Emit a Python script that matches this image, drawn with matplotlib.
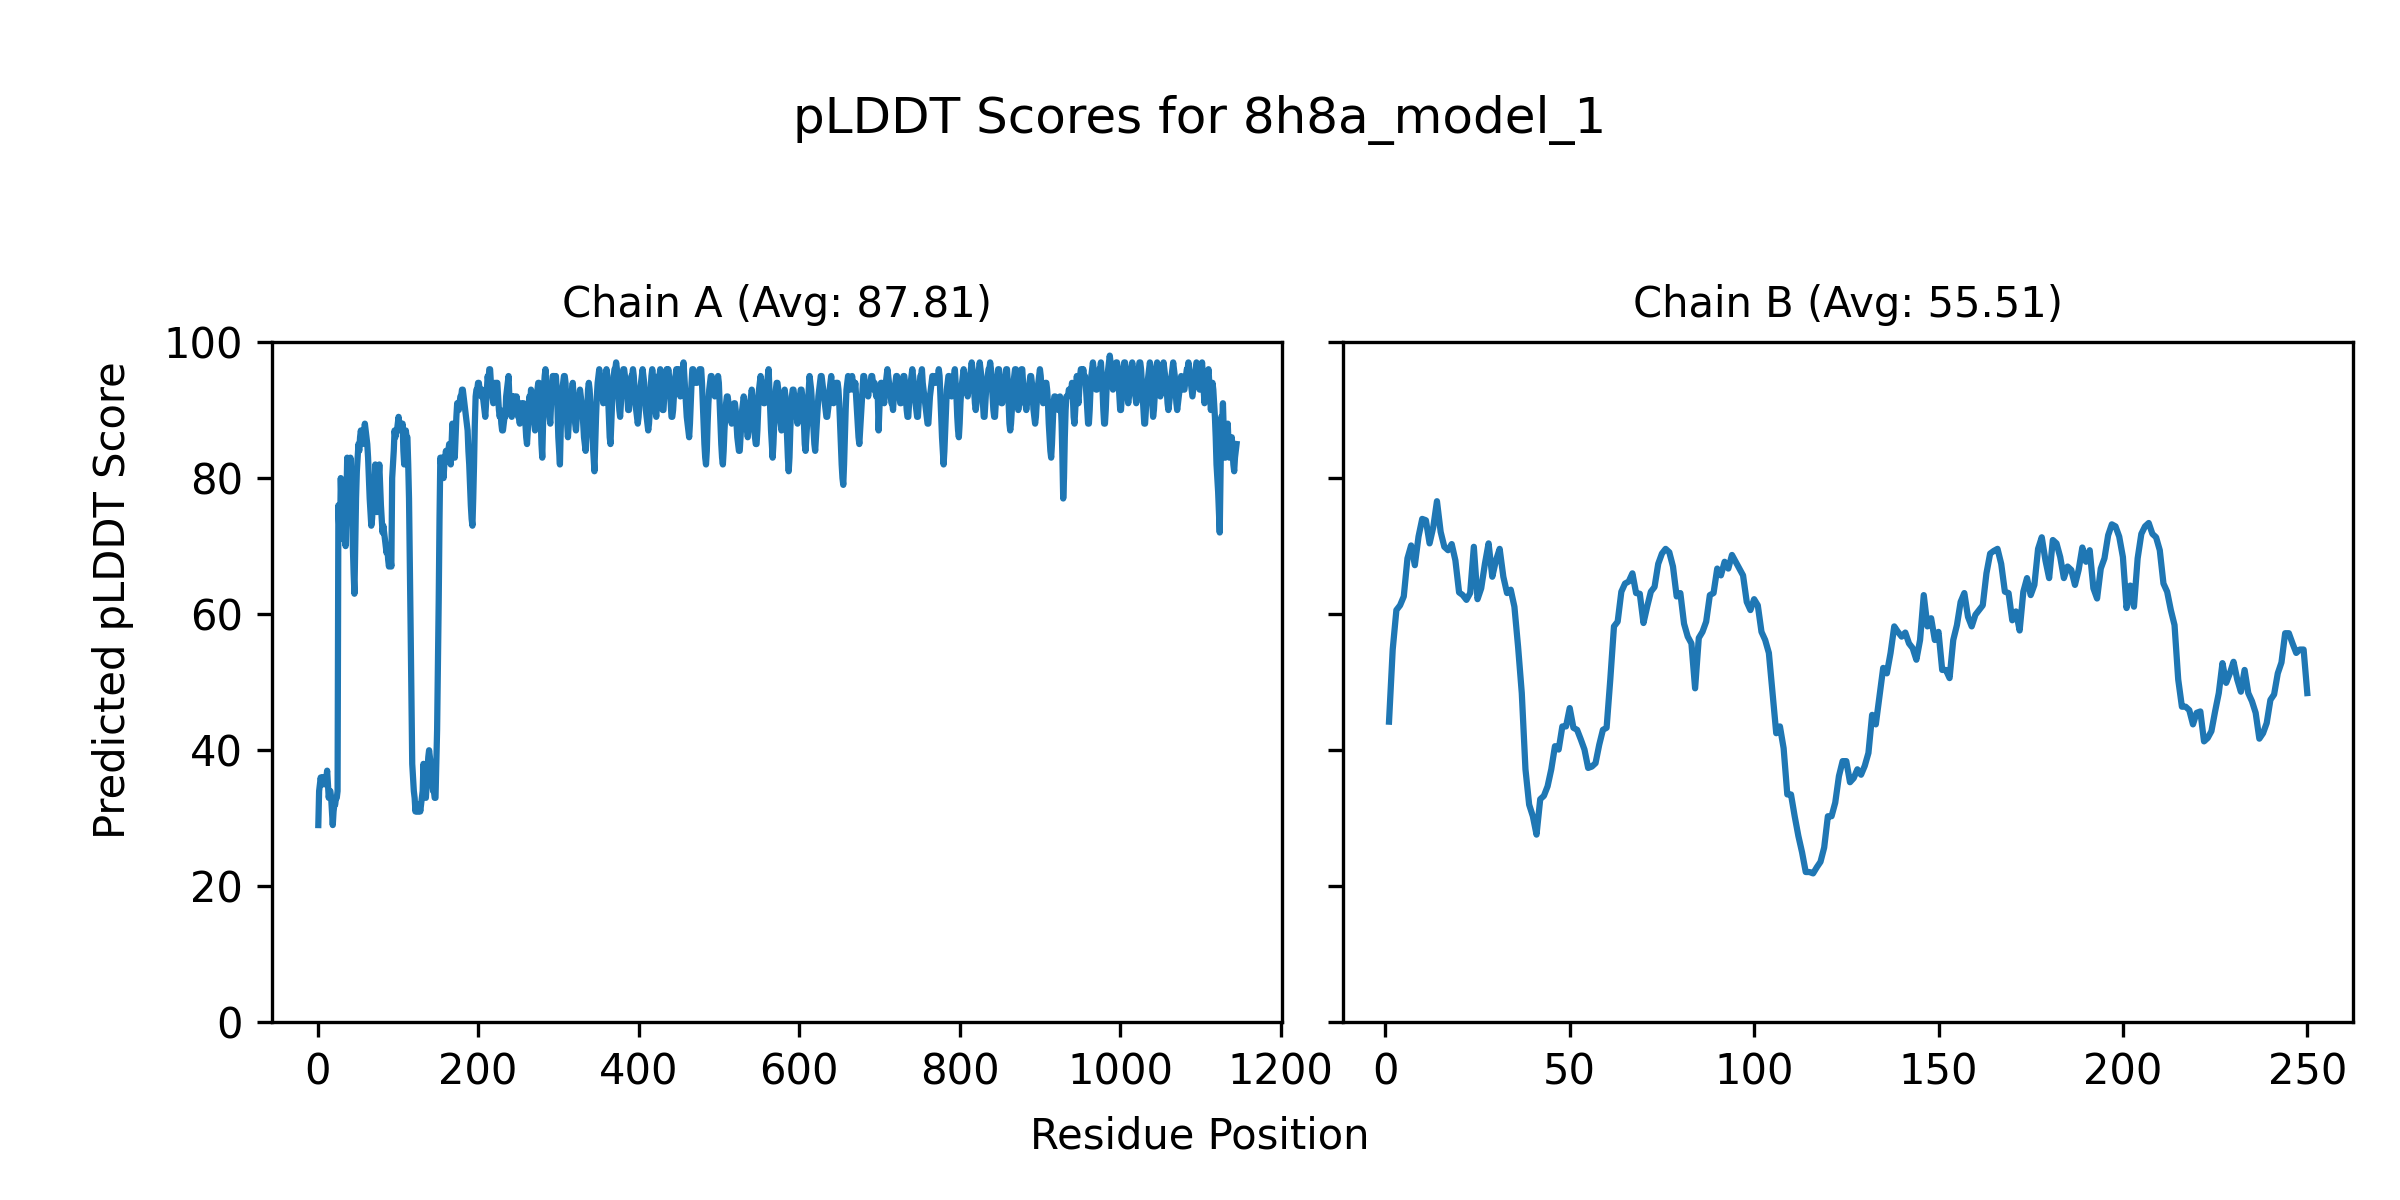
# -*- coding: utf-8 -*-
"""
pLDDT per-residue plot for a two-chain model (Chain A / Chain B)
"""

import matplotlib
matplotlib.use("Agg")
import matplotlib.pyplot as plt


MODEL_NAME = "8h8a_model_1"
CHAIN_NAMES = ["A", "B"]
CHAIN_AVGS = [87.81, 55.51]

# Chain A per-residue pLDDT (residues 1..1145)
chain_a_scores = [
    29, 34, 35, 36, 35, 36, 35, 36, 35, 35,
    36, 37, 35, 33, 34, 34, 33, 31, 29, 31,
    32, 32, 33, 33, 34, 76, 73, 71, 80, 76,
    72, 74, 75, 73, 70, 77, 83, 79, 74, 78,
    83, 79, 74, 70, 66, 63, 70, 77, 81, 83,
    85, 84, 86, 87, 86, 85, 86, 87, 88, 87,
    86, 85, 83, 80, 77, 75, 73, 74, 76, 75,
    78, 82, 79, 75, 78, 80, 82, 79, 76, 74,
    72, 73, 72, 71, 70, 69, 70, 68, 67, 68,
    68, 67, 80, 82, 84, 87, 86, 87, 87, 88,
    89, 88, 87, 88, 87, 88, 84, 82, 85, 87,
    86, 86, 82, 77, 68, 58, 48, 38, 36, 34,
    33, 31, 32, 31, 32, 31, 32, 31, 32, 33,
    34, 38, 35, 34, 33, 35, 37, 39, 40, 39,
    38, 36, 35, 34, 34, 33, 33, 38, 43, 52,
    62, 74, 83, 82, 83, 82, 80, 82, 83, 84,
    83, 83, 84, 85, 83, 82, 85, 88, 86, 84,
    83, 86, 89, 91, 90, 90, 91, 92, 92, 93,
    93, 92, 91, 90, 89, 88, 87, 84, 82, 79,
    76, 74, 73, 77, 82, 88, 92, 93, 93, 94,
    94, 93, 93, 92, 93, 92, 91, 90, 89, 91,
    93, 95, 94, 96, 96, 94, 93, 92, 91, 92,
    94, 93, 94, 94, 92, 90, 89, 90, 88, 87,
    87, 88, 89, 89, 92, 93, 94, 95, 92, 90,
    91, 89, 92, 91, 92, 91, 90, 92, 91, 89,
    89, 88, 90, 91, 90, 89, 91, 90, 88, 86,
    85, 87, 90, 92, 91, 93, 92, 90, 89, 88,
    87, 88, 91, 93, 94, 94, 92, 89, 85, 83,
    88, 93, 95, 96, 94, 92, 93, 91, 89, 88,
    91, 93, 95, 95, 95, 94, 95, 93, 90, 86,
    84, 82, 87, 91, 93, 94, 95, 95, 94, 91,
    88, 86, 88, 90, 91, 92, 93, 94, 92, 90,
    88, 87, 89, 91, 92, 92, 93, 92, 91, 90,
    88, 86, 85, 84, 87, 90, 93, 94, 93, 91,
    89, 87, 85, 83, 81, 85, 89, 92, 94, 95,
    96, 95, 94, 93, 92, 91, 93, 94, 95, 96,
    95, 92, 89, 86, 85, 88, 91, 93, 95, 96,
    96, 97, 96, 94, 92, 90, 89, 91, 93, 95,
    96, 96, 95, 94, 93, 92, 90, 90, 92, 93,
    95, 95, 96, 95, 93, 91, 90, 89, 88, 89,
    91, 93, 94, 95, 96, 95, 94, 92, 90, 89,
    88, 87, 88, 90, 93, 95, 96, 95, 93, 91,
    90, 89, 91, 93, 95, 95, 96, 94, 92, 90,
    90, 92, 94, 95, 96, 95, 96, 95, 93, 91,
    89, 89, 90, 92, 94, 95, 96, 95, 96, 96,
    93, 92, 94, 95, 96, 97, 95, 93, 91, 89,
    88, 87, 86, 88, 91, 94, 96, 96, 95, 95,
    94, 94, 94, 95, 95, 96, 96, 96, 94, 91,
    88, 85, 83, 82, 84, 88, 91, 93, 94, 95,
    95, 94, 93, 93, 92, 93, 94, 94, 95, 94,
    91, 88, 85, 83, 82, 84, 87, 89, 91, 92,
    92, 91, 90, 89, 89, 88, 89, 90, 91, 91,
    90, 88, 86, 85, 84, 84, 86, 88, 90, 91,
    92, 91, 89, 88, 87, 86, 87, 89, 91, 92,
    93, 92, 90, 88, 86, 85, 85, 87, 90, 93,
    94, 95, 94, 93, 92, 91, 91, 92, 93, 94,
    95, 96, 93, 90, 87, 85, 83, 85, 88, 91,
    93, 94, 94, 93, 91, 89, 88, 87, 88, 90,
    92, 93, 92, 89, 86, 83, 81, 83, 87, 90,
    92, 93, 93, 92, 91, 90, 89, 88, 89, 91,
    92, 93, 93, 92, 90, 88, 85, 84, 86, 88,
    91, 93, 95, 94, 93, 91, 89, 87, 85, 84,
    86, 88, 90, 92, 93, 94, 95, 95, 94, 93,
    92, 91, 90, 89, 89, 90, 91, 93, 94, 95,
    93, 92, 91, 92, 93, 94, 94, 94, 93, 91,
    88, 85, 82, 80, 79, 82, 86, 90, 93, 94,
    95, 94, 94, 93, 94, 95, 94, 93, 93, 94,
    92, 90, 88, 86, 85, 87, 89, 91, 93, 95,
    95, 94, 93, 93, 93, 92, 93, 94, 94, 95,
    95, 94, 93, 94, 93, 92, 93, 92, 87, 90,
    93, 94, 94, 93, 92, 91, 93, 94, 95, 96,
    95, 94, 93, 92, 91, 91, 90, 92, 93, 94,
    95, 95, 94, 93, 92, 91, 91, 92, 94, 95,
    95, 94, 92, 90, 89, 89, 91, 93, 94, 95,
    96, 95, 94, 92, 91, 90, 89, 89, 91, 93,
    95, 95, 96, 94, 93, 92, 91, 90, 89, 88,
    88, 90, 92, 93, 94, 95, 95, 94, 94, 94,
    95, 95, 95, 96, 95, 92, 89, 86, 84, 82,
    84, 87, 90, 93, 94, 95, 95, 94, 93, 92,
    93, 94, 95, 96, 94, 92, 89, 87, 86, 88,
    91, 93, 94, 95, 96, 95, 94, 93, 93, 92,
    93, 94, 95, 96, 97, 96, 94, 93, 91, 90,
    91, 93, 95, 96, 97, 96, 95, 93, 91, 89,
    89, 91, 93, 94, 95, 96, 96, 97, 96, 94,
    92, 90, 89, 89, 91, 93, 95, 96, 96, 94,
    92, 91, 91, 92, 93, 94, 95, 96, 96, 94,
    91, 88, 87, 88, 90, 92, 94, 95, 96, 96,
    94, 92, 90, 91, 92, 94, 96, 96, 94, 92,
    91, 91, 90, 91, 92, 93, 94, 95, 95, 94,
    92, 90, 89, 88, 89, 91, 93, 94, 95, 96,
    95, 93, 92, 91, 92, 93, 94, 94, 93, 91,
    88, 86, 84, 83, 85, 88, 91, 92, 92, 91,
    91, 91, 90, 91, 92, 91, 88, 83, 77, 80,
    86, 90, 92, 92, 92, 93, 93, 93, 93, 94,
    92, 89, 88, 90, 93, 95, 92, 91, 93, 95,
    96, 96, 95, 96, 95, 95, 94, 92, 90, 88,
    88, 90, 93, 95, 96, 97, 96, 95, 94, 93,
    93, 94, 95, 96, 96, 97, 95, 93, 90, 88,
    88, 90, 93, 95, 96, 97, 98, 97, 95, 94,
    93, 94, 95, 96, 97, 97, 96, 94, 92, 90,
    90, 92, 94, 96, 97, 97, 96, 94, 92, 91,
    92, 94, 95, 96, 97, 96, 94, 93, 92, 91,
    92, 94, 96, 97, 97, 96, 94, 92, 90, 88,
    88, 90, 92, 94, 95, 96, 97, 96, 94, 91,
    89, 90, 92, 94, 96, 97, 96, 95, 94, 92,
    93, 95, 96, 97, 96, 95, 94, 93, 91, 90,
    91, 92, 94, 95, 96, 97, 96, 95, 93, 91,
    90, 91, 92, 93, 94, 95, 94, 94, 93, 93,
    94, 95, 96, 96, 97, 96, 95, 94, 93, 92,
    93, 94, 95, 96, 97, 96, 95, 94, 93, 94,
    96, 97, 95, 93, 91, 92, 93, 94, 95, 96,
    94, 92, 90, 92, 94, 93, 91, 89, 86, 82,
    80, 78, 75, 72, 80, 89, 88, 91, 87, 83,
    83, 85, 86, 88, 85, 83, 84, 85, 86, 84,
    82, 81, 83, 84, 85,
]

# Chain B per-residue pLDDT (residues 1..250)
chain_b_scores = [
    44.2, 54.8, 60.6, 61.3, 62.6, 68.2, 70.1, 67.2, 71.4, 74.0,
    73.8, 70.4, 72.8, 76.6, 72.1, 69.9, 69.4, 70.3, 67.9, 63.2,
    62.8, 62.1, 63.1, 69.9, 62.2, 63.8, 67.4, 70.4, 65.5, 67.9,
    69.6, 65.5, 63.1, 63.6, 61.1, 55.2, 48.4, 37.2, 32.0, 30.3,
    27.6, 32.8, 33.3, 34.7, 37.2, 40.6, 40.1, 43.5, 43.5, 46.2,
    43.3, 43.0, 41.6, 40.1, 37.4, 37.6, 38.1, 40.8, 43.0, 43.3,
    50.4, 58.2, 58.9, 63.3, 64.5, 64.8, 66.0, 63.1, 63.0, 58.7,
    61.1, 63.3, 64.0, 67.4, 68.9, 69.6, 69.1, 67.0, 62.6, 63.1,
    58.6, 56.7, 55.7, 49.1, 56.5, 57.4, 58.9, 62.8, 63.1, 66.7,
    65.7, 67.7, 66.7, 68.7, 67.7, 66.7, 65.7, 61.8, 60.6, 62.2,
    61.3, 57.4, 56.2, 54.3, 48.4, 42.5, 43.5, 40.3, 33.5, 33.5,
    30.3, 27.4, 25.0, 22.1, 22.1, 21.9, 22.8, 23.6, 25.7, 30.3,
    30.3, 32.3, 36.2, 38.4, 38.4, 35.3, 35.9, 37.2, 36.4, 37.7,
    39.6, 45.2, 43.8, 47.9, 52.1, 51.3, 54.3, 58.2, 57.4, 56.7,
    57.3, 55.7, 55.0, 53.3, 56.2, 62.8, 58.2, 59.4, 56.2, 57.4,
    51.8, 51.8, 50.6, 56.2, 58.4, 61.8, 63.1, 59.6, 58.2, 59.9,
    60.6, 61.3, 66.0, 68.9, 69.3, 69.6, 67.4, 63.3, 63.1, 59.1,
    60.4, 57.6, 63.3, 65.3, 62.8, 64.3, 69.6, 71.3, 67.9, 65.3,
    70.9, 70.4, 68.4, 65.3, 67.0, 66.5, 64.3, 66.5, 69.8, 67.7,
    69.4, 63.8, 62.3, 66.7, 68.2, 71.6, 73.2, 72.9, 71.4, 68.4,
    60.9, 64.2, 61.1, 68.2, 71.8, 72.9, 73.4, 71.8, 71.3, 69.4,
    64.5, 63.3, 60.6, 58.4, 50.4, 46.4, 46.4, 45.9, 43.8, 45.5,
    45.7, 41.3, 41.8, 42.8, 45.7, 48.4, 52.8, 49.9, 51.3, 53.0,
    50.4, 48.6, 51.8, 48.4, 47.2, 45.5, 41.7, 42.5, 44.0, 47.4,
    48.2, 51.3, 52.9, 57.2, 57.2, 55.7, 54.3, 54.8, 54.8, 48.4,
]


def plot_chains(chains, save_path):
    fig, axes = plt.subplots(1, 2, figsize=(8, 4), sharey=True)
    fig.subplots_adjust(left=0.1135, right=0.9805, bottom=0.148, top=0.715, wspace=0.06)

    for ax, (name, avg, scores) in zip(axes, chains):
        residues = range(1, len(scores) + 1)
        ax.plot(residues, scores, color="#1f77b4", linewidth=1.5)
        ax.set_title("Chain {} (Avg: {:.2f})".format(name, avg), fontsize=10)
        ax.set_ylim(0, 100)

    fig.suptitle("pLDDT Scores for {}".format(MODEL_NAME), fontsize=12, y=0.9, va="center")
    # shared axis labels centred on the figure
    fig.text(0.5, 0.053, "Residue Position", ha="center", va="center", fontsize=10)
    fig.text(0.047, 0.5, "Predicted pLDDT Score", ha="center", va="center",
             rotation=90, fontsize=10)

    fig.savefig(save_path, dpi=300)
    plt.close(fig)


def main():
    chains = [
        (CHAIN_NAMES[0], CHAIN_AVGS[0], chain_a_scores),
        (CHAIN_NAMES[1], CHAIN_AVGS[1], chain_b_scores),
    ]
    plot_chains(chains, "out.png")


if __name__ == "__main__":
    main()
